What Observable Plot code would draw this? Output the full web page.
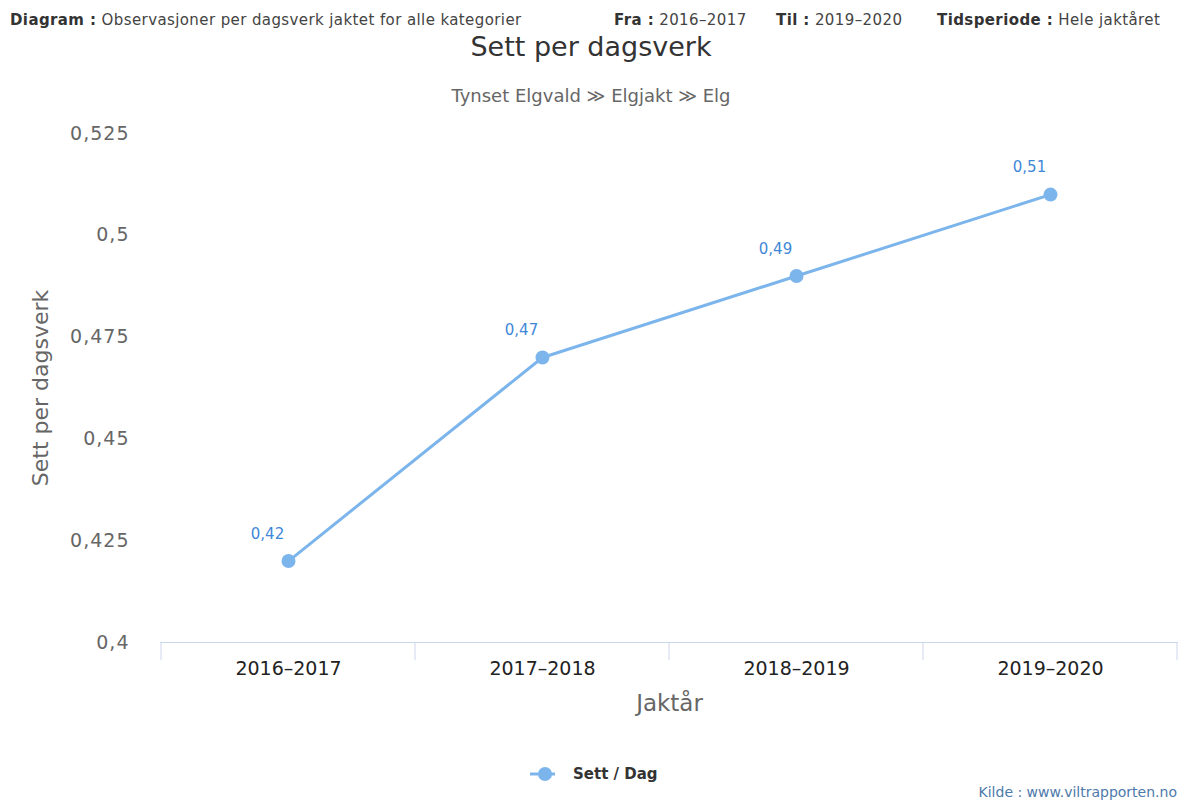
<!DOCTYPE html>
<html>
<head>
<meta charset="utf-8">
<script src="https://cdn.jsdelivr.net/npm/d3@7"></script>
<script src="https://cdn.jsdelivr.net/npm/@observablehq/plot@0.6"></script>
<style>
  html, body { margin: 0; padding: 0; background: #fff; }
  body { width: 1182px; height: 800px; position: relative; font-family: "DejaVu Sans", sans-serif; overflow: hidden; }
  .abs { position: absolute; white-space: nowrap; }
  .hdr { top: 11px; font-size: 15px; letter-spacing: 0.4px; color: #444; line-height: 18px; }
  .hdr b { color: #333; }
  #title { top: 30px; left: 0; width: 1182px; text-align: center; font-size: 27px; color: #333; line-height: 34px; }
  #subtitle { top: 85px; left: 0; width: 1182px; text-align: center; font-size: 18px; color: #666; line-height: 22px; }
  #chart { position: absolute; top: 110px; left: 0; }
  #legend { top: 764px; left: 530px; font-size: 15px; font-weight: bold; color: #333; line-height: 20px; display: flex; align-items: center; }
  #legend svg { margin-right: 18px; }
  #credit { top: 783px; right: 5px; font-size: 14px; color: #4d7aab; line-height: 18px; }
</style>
</head>
<body>
<div class="abs hdr" style="left:10px"><b>Diagram :</b> Observasjoner per dagsverk jaktet for alle kategorier</div>
<div class="abs hdr" style="left:614px"><b>Fra :</b> 2016–2017</div>
<div class="abs hdr" style="left:776px"><b>Til :</b> 2019–2020</div>
<div class="abs hdr" style="left:937px"><b>Tidsperiode :</b> Hele jaktåret</div>
<div class="abs" id="title">Sett per dagsverk</div>
<div class="abs" id="subtitle">Tynset Elgvald ≫ Elgjakt ≫ Elg</div>
<div id="chart"></div>
<div class="abs" id="legend"><svg width="25" height="16"><line x1="0" x2="25" y1="8" y2="8" stroke="#7cb5ec" stroke-width="3"/><circle cx="15" cy="8" r="7" fill="#7cb5ec"/></svg>Sett / Dag</div>
<div class="abs" id="credit">Kilde : www.viltrapporten.no</div>
<script>
const years = ["2016–2017", "2017–2018", "2018–2019", "2019–2020"];
const values = [0.42, 0.47, 0.49, 0.51];
const valueLabels = ["0,42", "0,47", "0,49", "0,51"];
const yTicks = [0.4, 0.425, 0.45, 0.475, 0.5, 0.525];
const xTitle = "Jaktår";
const yTitle = "Sett per dagsverk";

const data = years.map((y, i) => ({year: y, value: values[i], label: valueLabels[i]}));
const fmt = d => String(d).replace(".", ",");

const plot = Plot.plot({
  width: 1182,
  height: 620,
  marginTop: 23,
  marginBottom: 88,
  marginLeft: 160,
  marginRight: 4,
  style: {fontFamily: "DejaVu Sans, sans-serif", background: "white"},
  x: {type: "point", domain: years, padding: 0.5, axis: null},
  y: {domain: [0.4, 0.525], axis: null},
  marks: [
    Plot.axisY({ticks: yTicks, tickSize: 0, tickPadding: 31, tickFormat: fmt, fontSize: 19, fill: "#666", label: null}),
    Plot.axisX({tickSize: 0, tickPadding: 19, fontSize: 19, fill: "#222", label: null}),
    Plot.ruleY([0.4], {stroke: "#ccd6eb", strokeWidth: 1}),
    Plot.line(data, {x: "year", y: "value", stroke: "#7cb5ec", strokeWidth: 3}),
    Plot.dot(data, {x: "year", y: "value", r: 7, fill: "#7cb5ec"}),
    Plot.text(data, {x: "year", y: "value", text: "label", dx: -21, dy: -27, fill: "#3f88d8", fontSize: 15}),
    Plot.text([xTitle], {frameAnchor: "bottom", dy: 68, text: d => d, fontSize: 23, fill: "#666"}),
    Plot.text([yTitle], {frameAnchor: "left", dx: -120, rotate: -90, textAnchor: "middle", text: d => d, fontSize: 22, fill: "#666"})
  ]
});
document.getElementById("chart").appendChild(plot);

// category separator ticks (between categories), positioned via the x scale
const xs = plot.scale("x");
const ys = plot.scale("y");
const y0 = ys.apply(0.4);
const bounds = years.map(y => xs.apply(y) - xs.step / 2).concat([xs.apply(years[years.length - 1]) + xs.step / 2]);
d3.select(plot).append("g")
  .selectAll("line").data(bounds).join("line")
  .attr("x1", d => d).attr("x2", d => d)
  .attr("y1", y0).attr("y2", y0 + 18)
  .attr("stroke", "#ccd6eb").attr("stroke-width", 1);
d3.select(plot).selectAll('g[aria-label="y-axis tick label"] text').attr("letter-spacing", "1px");
</script>
</body>
</html>
